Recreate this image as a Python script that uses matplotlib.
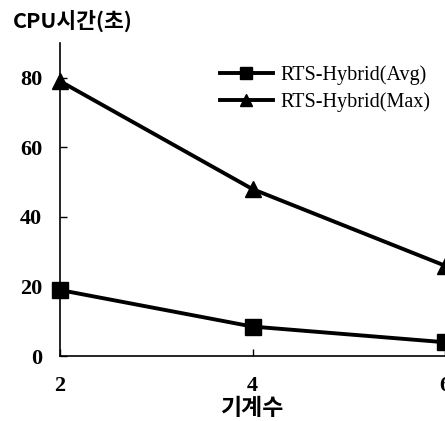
import matplotlib.pyplot as plt

machines = [2, 4, 6]
avg_time = [19, 8.5, 4]
max_time = [79, 48, 26]
labels = ['RTS-Hybrid(Avg)', 'RTS-Hybrid(Max)']

fig = plt.figure(figsize=(4.45, 4.21), dpi=100)
ax = fig.add_axes([0.135, 0.154, 0.865, 0.744])

ax.plot(machines, avg_time, color='black', linewidth=2.8, marker='s',
        markersize=11, label=labels[0], clip_on=False)
ax.plot(machines, max_time, color='black', linewidth=2.8, marker='^',
        markersize=11, label=labels[1], clip_on=False)

ax.set_xlim(2, 6)
ax.set_ylim(0, 90)
ax.set_xticks(machines)
ax.set_yticks([0, 20, 40, 60, 80])
ax.tick_params(direction='in', length=5, width=1)
for lab in ax.get_xticklabels() + ax.get_yticklabels():
    lab.set_family('Liberation Serif')
    lab.set_fontweight('bold')
    lab.set_fontsize(16)
ax.tick_params(axis='y', pad=13)
ax.tick_params(axis='x', pad=14)

ax.spines['top'].set_visible(False)
ax.spines['right'].set_visible(False)
ax.spines['left'].set_linewidth(1.2)
ax.spines['bottom'].set_linewidth(1.2)

fig.text(0.03, 0.95, 'CPU시간(초)', family='Noto Sans CJK KR', fontsize=15.5,
         fontweight='bold', va='center', ha='left')
fig.text(0.566, 0.03, '기계수', family='Noto Sans CJK KR', fontsize=16.5,
         fontweight='bold', va='center', ha='center')

ax.legend(loc='upper right', bbox_to_anchor=(1.01, 0.985), frameon=False,
          prop={'family': 'Liberation Serif', 'size': 14.5}, handlelength=2.6,
          labelspacing=0.35, handletextpad=0.4, markerscale=0.85)

fig.savefig('out.png', dpi=100)
